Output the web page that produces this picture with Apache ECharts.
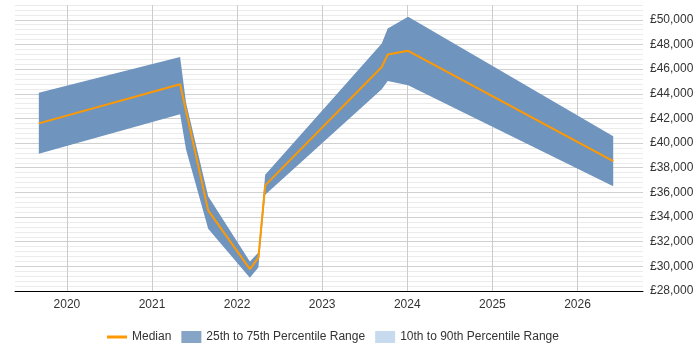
<!DOCTYPE html>
<html>
<head>
<meta charset="utf-8">
<script src="https://cdn.jsdelivr.net/npm/echarts@6/dist/echarts.min.js"></script>
<style>
    html, body { margin: 0; padding: 0; background: #fff; }
    #chart { width: 700px; height: 350px; }
</style>
</head>
<body>
<div id="chart"></div>
<script>
// x positions as decimal years
const years = [2019.67, 2021.33, 2021.40, 2021.66, 2022.15, 2022.25, 2022.33, 2023.70, 2023.77, 2024.01, 2026.42];
const median = [41600, 44770, 42600, 34540, 29770, 30710, 36570, 46175, 47185, 47480, 38530];
const p25 = [39130, 42330, 39480, 33050, 29080, 29900, 35810, 44360, 45040, 44690, 36490];
const p75 = [44090, 46990, 43280, 35680, 30390, 31120, 37440, 48080, 49300, 50250, 40560];
const yearLabels = [2020, 2021, 2022, 2023, 2024, 2025, 2026];

const chart = echarts.init(document.getElementById('chart'));

const medianData = years.map((x, i) => [x, median[i]]);
const bandData = years.map((x, i) => [x, p25[i], p75[i]]);

// 5 minor lines per 2000 step, first one darker
const gridColors = ['#d0d0d0', '#ebebeb', '#ebebeb', '#ebebeb', '#ebebeb'];

// draw the whole 25-75 band as one polygon (only on the first item)
function renderBand(params, api) {
    if (params.dataIndex !== 0) return;
    let top = years.map((x, i) => api.coord([x, p75[i]]));
    let bottom = years.map((x, i) => api.coord([x, p25[i]])).reverse();
    return {
        type: 'polygon',
        shape: { points: top.concat(bottom) },
        style: { fill: '#6f94be' }
    };
}

chart.setOption({
    animation: false,
    textStyle: { fontFamily: 'Liberation Sans, Arial, sans-serif' },
    grid: { left: 15, right: 57, top: 5, bottom: 59 },
    legend: {
        bottom: 2,
        left: 102,
        itemWidth: 20,
        itemHeight: 12,
        itemGap: 10,
        textStyle: { fontSize: 12, color: '#333' },
        data: [
            { name: 'Median', icon: 'path://M0,5 L20,5 L20,8 L0,8 Z' },
            { name: '25th to 75th Percentile Range', icon: 'rect', itemStyle: { color: '#86a4c6' } },
            { name: '10th to 90th Percentile Range', icon: 'rect', itemStyle: { color: '#c8dbee' } }
        ]
    },
    xAxis: {
        type: 'value',
        min: 2019.39,
        max: 2026.77,
        splitNumber: 7,
        axisLine: { lineStyle: { color: '#000', width: 1 } },
        axisTick: { show: false },
        axisLabel: {
            color: '#333',
            fontSize: 12,
            margin: 8,
            showMinLabel: false,
            showMaxLabel: false,
            formatter: v => yearLabels.includes(v) ? String(v) : ''
        },
        splitLine: {
            show: true,
            showMinLine: false,
            showMaxLine: false,
            lineStyle: { color: '#cccccc' }
        }
    },
    yAxis: {
        type: 'value',
        position: 'right',
        min: 28000,
        max: 51200,
        interval: 400,
        axisLine: { show: false },
        axisTick: { show: false },
        axisLabel: {
            color: '#333',
            fontSize: 12,
            margin: 7,
            formatter: v => v % 2000 === 0 ? '£' + v.toLocaleString('en-GB') : ''
        },
        splitLine: { lineStyle: { color: gridColors, width: 1 } }
    },
    series: [
        {
            name: '25th to 75th Percentile Range',
            type: 'custom',
            renderItem: renderBand,
            data: bandData,
            encode: { x: 0, y: [1, 2] },
            itemStyle: { color: '#86a4c6' },
            silent: true,
            z: 2
        },
        {
            name: '10th to 90th Percentile Range',
            type: 'line',
            data: [],
            itemStyle: { color: '#c8dbee' }
        },
        {
            name: 'Median',
            type: 'line',
            data: medianData,
            symbol: 'none',
            itemStyle: { color: '#ff9900' },
            lineStyle: { color: '#ff9900', width: 2 },
            z: 3
        }
    ]
});
</script>
</body>
</html>
